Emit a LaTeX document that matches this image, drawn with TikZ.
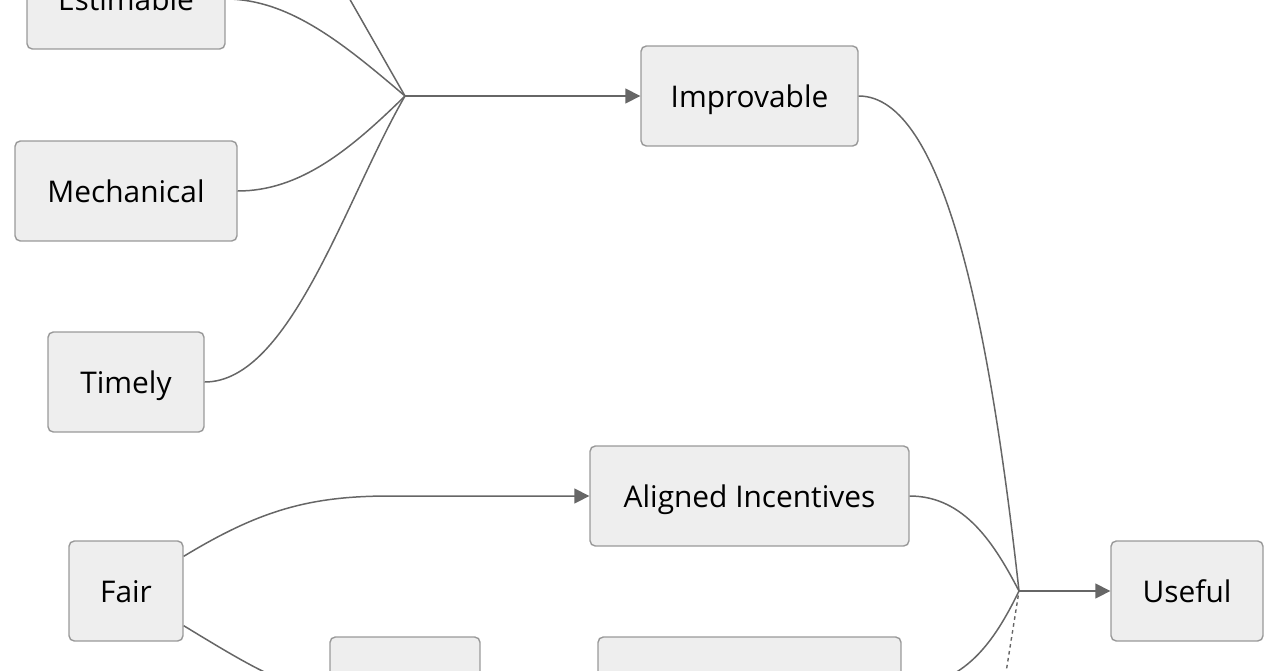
\documentclass[tikz,border=0pt]{standalone}
\usepackage{fontspec}
\setmainfont{Open Sans}
\usetikzlibrary{arrows.meta,positioning}
\definecolor{linegray}{HTML}{666666}
\definecolor{boxfill}{HTML}{EEEEEE}
\definecolor{boxline}{HTML}{999999}

\begin{document}
\begin{tikzpicture}[
    x=0.02cm, y=-0.02cm,
    every node/.style={font=\fontsize{17}{20}\selectfont},
    box/.style={draw=boxline, line width=0.8pt, fill=boxfill, rounded corners=3pt, align=center, minimum height=2cm, inner sep=0pt, text height=13pt, text depth=0pt},
    link/.style={draw=linegray, line width=0.85pt},
    flow/.style={link, -{Triangle[length=8.5pt, width=8.5pt]}},
    dotlink/.style={link, line width=0.8pt, densely dashed, dash pattern=on 2pt off 2pt}
]
\useasboundingbox (0,0) rectangle (1280,670);
\clip (0,0) rectangle (1280,670);

\node[box, minimum width=3.96cm] (est) at (126,-1) {Estimable};
\node[box, minimum width=4.44cm] (mech) at (126,191) {Mechanical};
\node[box, minimum width=3.12cm] (timely) at (126,382) {Timely};
\node[box, minimum width=2.28cm] (fair) at (126,591) {Fair};
\node[box, minimum width=4.34cm] (impr) at (749.5,96) {Improvable};
\node[box, minimum width=6.38cm] (align) at (749.5,496) {Aligned Incentives};
\node[box, minimum width=3.04cm] (useful) at (1187,591) {Useful};
\node[box, minimum width=3.0cm] (low1) at (405,687) {};
\node[box, minimum width=6.06cm] (low2) at (749.5,687) {};

\coordinate (j1) at (405,96);
\coordinate (j2) at (1019,591);
\coordinate (above) at (316,-60);
\coordinate (below) at (1000,710);

\draw[link] (above) -- (j1);
\draw[link] (est.east) .. controls (290,-1) and (345,45) .. (j1);
\draw[link] (mech.east) .. controls (300,191) and (350,150) .. (j1);
\draw[link] (timely.east) .. controls (290,382) and (345,200) .. (j1);
\draw[flow] (j1) -- (impr.west);

\draw[link] (impr.east) .. controls (945,96) and (990,330) .. (j2);
\draw[link] (align.east) .. controls (965,496) and (995,545) .. (j2);
\draw[link] (low2.east) .. controls (965,687) and (995,640) .. (j2);
\draw[dotlink] (below) -- (j2);
\draw[flow] (j2) -- (useful.west);

\draw[flow] (fair.31) .. controls (260,510) and (310,496) .. (390,496) -- (align.west);
\draw[flow] (fair.-31) .. controls (245,663) and (285,687) .. (low1.west);
\end{tikzpicture}
\end{document}
